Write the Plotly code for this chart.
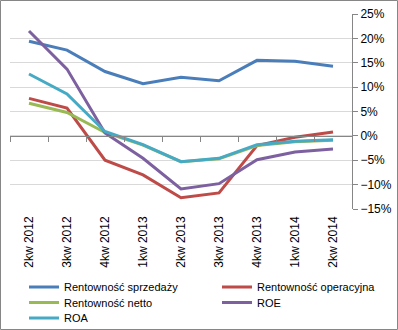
import plotly.graph_objects as go

quarters = ["2kw 2012", "3kw 2012", "4kw 2012", "1kw 2013", "2kw 2013",
            "3kw 2013", "4kw 2013", "1kw 2014", "2kw 2014"]

rent_sprzedazy = [19.4, 17.6, 13.2, 10.7, 12.0, 11.3, 15.5, 15.3, 14.3]
rent_operacyjna = [7.7, 5.7, -5.0, -8.0, -12.7, -11.7, -2.0, -0.3, 0.8]
rent_netto = [6.7, 4.8, 0.7, -1.9, -5.3, -4.7, -2.0, -1.2, -0.9]
roe = [21.5, 13.7, 0.6, -4.6, -10.9, -9.8, -4.9, -3.3, -2.7]
roa = [12.7, 8.6, 0.9, -1.8, -5.3, -4.6, -1.8, -1.1, -0.8]

names = ["Rentowność sprzedaży", "Rentowność operacyjna", "Rentowność netto",
         "ROE", "ROA"]
values = [rent_sprzedazy, rent_operacyjna, rent_netto, roe, roa]
colors = ["#4A7EBB", "#BE4B48", "#98B954", "#7D60A0", "#46AAC5"]

W, H = 398, 330
ml, mr, mt, mb = 10, 46, 14, 121
pw, ph = W - ml - mr, H - mt - mb


def px_x(p):
    return (p - ml) / pw


def px_y(p):
    return (mt + ph - p) / ph


font = dict(family="Liberation Sans, Arial, sans-serif", size=11, color="#000000")
ymin, ymax = -0.15, 0.25

# legend grid: two columns, three rows (pixel anchors)
col_x = [24, 217]
row_y = [287, 302.5, 318]
legend_ids = ["legend", "legend2", "legend3", "legend4", "legend5"]

fig = go.Figure()
legends = {}
for i, (name, vals, col) in enumerate(zip(names, values, colors)):
    lg = legend_ids[i]
    fig.add_trace(go.Scatter(x=quarters, y=[v / 100 for v in vals], name=name,
                             mode="lines", line=dict(color=col, width=3),
                             legend=lg))
    legends[lg] = dict(x=px_x(col_x[i % 2]), y=px_y(row_y[i // 2]),
                       xanchor="left", yanchor="middle", orientation="v",
                       font=font, itemwidth=30, bgcolor="rgba(0,0,0,0)")

fig.update_layout(
    width=W, height=H,
    margin=dict(l=ml, r=mr, t=mt, b=mb, autoexpand=False),
    paper_bgcolor="white", plot_bgcolor="white",
    font=font,
    showlegend=True,
    xaxis=dict(type="category", categoryorder="array", categoryarray=quarters,
               range=[-0.5, 8.5], showline=False, ticks="", showgrid=False,
               tickangle=-90, tickfont=dict(font, size=12), zeroline=False,
               ticklabelstandoff=4),
    xaxis2=dict(type="category", categoryorder="array", categoryarray=quarters,
                range=[-0.5, 8.5], overlaying="x", anchor="free",
                position=(0 - ymin) / (ymax - ymin), side="bottom",
                showline=True, linecolor="#868686", linewidth=1,
                ticks="outside", ticklen=5, tickcolor="#868686",
                tickson="boundaries", showticklabels=False, showgrid=False,
                zeroline=False),
    yaxis=dict(side="right", range=[ymin, ymax], dtick=0.05, tickformat=".0%",
               showgrid=True, gridcolor="#D9D9D9", gridwidth=1,
               showline=True, linecolor="#868686", linewidth=1,
               ticks="outside", ticklen=5, tickcolor="#868686",
               zeroline=False, tickfont=dict(font, size=12)),
    shapes=[dict(type="rect", xref="paper", yref="paper",
                 x0=px_x(0.5), x1=px_x(W - 0.5),
                 y0=px_y(H - 0.5), y1=px_y(0.5),
                 line=dict(color="#868686", width=1))],
    **legends,
)

# empty trace so the zero-crossing category axis is drawn
fig.add_trace(go.Scatter(x=quarters, y=[None] * len(quarters), xaxis="x2",
                         showlegend=False, hoverinfo="skip"))

fig.write_html("out.html")
